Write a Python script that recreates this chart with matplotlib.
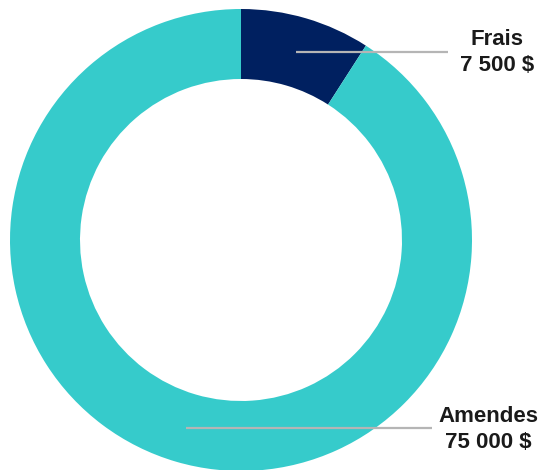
import numpy as np
import matplotlib
matplotlib.use("Agg")
import matplotlib.pyplot as plt

# Data
categories = ["Frais", "Amendes"]
values = [7500, 75000]
value_labels = ["7 500 $", "75 000 $"]
colors = ["#002060", "#36CBCB"]

W, H = 542, 470
fig = plt.figure(figsize=(W / 100, H / 100), dpi=100)
ax = fig.add_axes([0, 0, 1, 1])

cx, cy = 241, 230
r_out, ring = 231, 70

ax.pie(values, colors=colors, startangle=90, counterclock=False,
       center=(cx, cy), radius=r_out, frame=True,
       wedgeprops=dict(width=ring, linewidth=0))
ax.set_xlim(0, W)
ax.set_ylim(0, H)
ax.set_aspect("equal")
ax.axis("off")

# leader lines from middle of each wedge, then labels
total = sum(values)
line_end = [448, 432]
label_x = [497, 488]
start = 0
for i, v in enumerate(values):
    mid = (start + v / 2) / total * 2 * np.pi
    start += v
    r_mid = r_out - ring / 2
    x0 = cx + r_mid * np.sin(mid)
    y0 = cy + r_mid * np.cos(mid)
    ax.plot([x0, line_end[i]], [y0, y0], color="#b5b5b5", lw=1.6,
            solid_capstyle="butt", zorder=3)
    ax.text(label_x[i], y0 + 12, categories[i], ha="center", va="center",
            fontsize=16, fontweight="bold", family="Liberation Sans",
            color="#1a1a1a")
    ax.text(label_x[i], y0 - 14, value_labels[i], ha="center", va="center",
            fontsize=16, fontweight="bold", family="Liberation Sans",
            color="#1a1a1a")

fig.savefig("out.png", dpi=100)
